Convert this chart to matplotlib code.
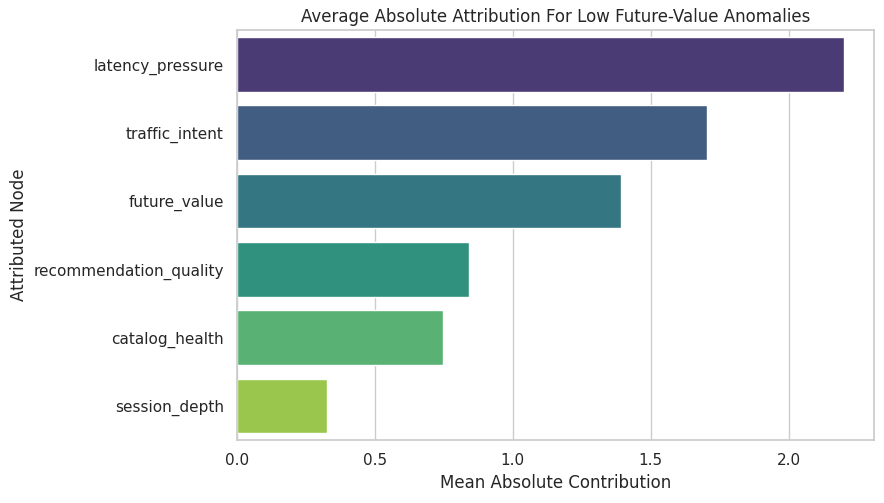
import matplotlib
matplotlib.use("Agg")
import matplotlib.pyplot as plt
import seaborn as sns
import pandas as pd

# valeurs
nodes = ['latency_pressure', 'traffic_intent', 'future_value',
         'recommendation_quality', 'catalog_health', 'session_depth']
contrib = [2.20, 1.705, 1.393, 0.842, 0.748, 0.327]

df = pd.DataFrame({'node': nodes, 'contrib': contrib})

sns.set_theme(style='whitegrid')
fig = plt.figure(figsize=(8.84, 5.03), dpi=100)
ax = fig.add_axes([0.268, 0.125, 0.721, 0.815])
sns.barplot(data=df, x='contrib', y='node', hue='node', palette='viridis',
            legend=False, ax=ax)
ax.set_title('Average Absolute Attribution For Low Future-Value Anomalies')
ax.set_xlabel('Mean Absolute Contribution')
ax.set_ylabel('Attributed Node')
fig.savefig('out.png', dpi=100)
